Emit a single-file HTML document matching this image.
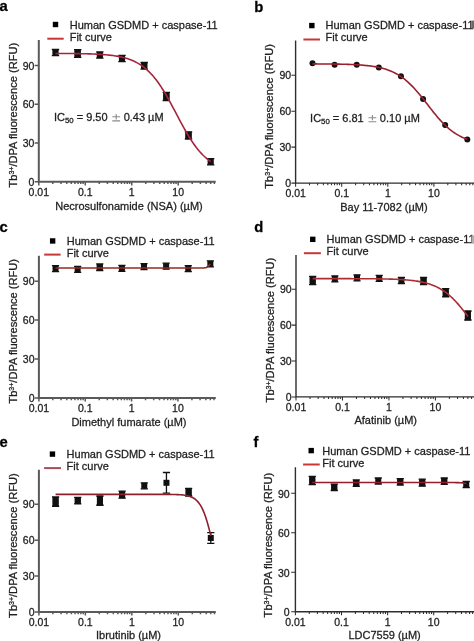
<!DOCTYPE html>
<html><head><meta charset="utf-8"><style>
html,body{margin:0;padding:0;background:#fff;width:474px;height:641px;overflow:hidden}
svg{display:block;font-family:"Liberation Sans",sans-serif;filter:blur(0.3px)}
text{stroke:#1e1e1e;stroke-width:0.28px;paint-order:stroke}
</style></head><body>
<svg width="474" height="641" viewBox="0 0 474 641">
<rect width="474" height="641" fill="#fff"/>
<text x="-0.6" y="11.2" font-size="14.8" font-weight="bold" fill="#000">a</text>
<path d="M38.8 40V181.8H215.7" fill="none" stroke="#5a5a5a" stroke-width="2.0"/>
<text x="34.4" y="185.8" font-size="10.5" text-anchor="end" fill="#1e1e1e">0</text>
<text x="34.4" y="147.04" font-size="10.5" text-anchor="end" fill="#1e1e1e">30</text>
<text x="34.4" y="108.28" font-size="10.5" text-anchor="end" fill="#1e1e1e">60</text>
<text x="34.4" y="69.52" font-size="10.5" text-anchor="end" fill="#1e1e1e">90</text>
<text x="38.8" y="195.9" font-size="10.5" text-anchor="middle" fill="#1e1e1e">0.01</text>
<text x="85.27" y="195.9" font-size="10.5" text-anchor="middle" fill="#1e1e1e">0.1</text>
<text x="131.74" y="195.9" font-size="10.5" text-anchor="middle" fill="#1e1e1e">1</text>
<text x="178.21" y="195.9" font-size="10.5" text-anchor="middle" fill="#1e1e1e">10</text>
<path d="M34.6 181.8H38.8M34.6 143.04H38.8M34.6 104.28H38.8M34.6 65.52H38.8M38.8 181.8V185.4M52.79 181.8V184M60.97 181.8V184M66.78 181.8V184M71.28 181.8V184M74.96 181.8V184M78.07 181.8V184M80.77 181.8V184M83.14 181.8V184M85.27 181.8V185.4M99.26 181.8V184M107.44 181.8V184M113.25 181.8V184M117.75 181.8V184M121.43 181.8V184M124.54 181.8V184M127.24 181.8V184M129.61 181.8V184M131.74 181.8V185.4M145.73 181.8V184M153.91 181.8V184M159.72 181.8V184M164.22 181.8V184M167.9 181.8V184M171.01 181.8V184M173.71 181.8V184M176.08 181.8V184M178.21 181.8V185.4M192.2 181.8V184M200.38 181.8V184M206.19 181.8V184M210.69 181.8V184M214.37 181.8V184" stroke="#5a5a5a" stroke-width="1.50"/>
<text x="55.2" y="209.8" font-size="11" fill="#1e1e1e">Necrosulfonamide (NSA) (µM)</text>
<text transform="translate(16.9 187.5) rotate(-90)" font-size="11.1" fill="#1e1e1e">Tb<tspan font-size="7.0" dy="-3.0">3+</tspan><tspan dy="3.0">/DPA fluorescence (RFU)</tspan></text>
<rect x="52.8" y="21.8" width="5.4" height="5.4" fill="#000"/>
<text x="69.7" y="28.6" font-size="11" fill="#1e1e1e">Human GSDMD + caspase-11</text>
<path d="M47.3 38.7H63.7" stroke="#c83636" stroke-width="2"/>
<text x="69.7" y="41" font-size="11" fill="#1e1e1e">Fit curve</text>
<text x="53.91" y="121.2" font-size="11" fill="#1e1e1e">IC<tspan font-size="7.8" dy="2">50</tspan><tspan dy="-2"> = 9.50</tspan></text>
<path d="M116.2 114V119.4M112.3 116.8H120.1M112.3 120.9H120.1" stroke="#8a8a8a" stroke-width="1.1"/>
<text x="123.66" y="121.2" font-size="11" fill="#1e1e1e">0.43 µM</text>
<rect x="52.39" y="49.5" width="6.2" height="6.2" fill="#111"/>
<rect x="74.56" y="50.4" width="6.2" height="6.2" fill="#111"/>
<path d="M73.96 49.7H81.36L80.76 50.4V56.6L81.36 57.3H73.96L74.56 56.6V50.4Z" fill="#111"/>
<rect x="96.73" y="51.9" width="6.2" height="6.2" fill="#111"/>
<rect x="118.9" y="55.4" width="6.2" height="6.2" fill="#111"/>
<rect x="141.08" y="62.7" width="6.2" height="6.2" fill="#111"/>
<path d="M140.48 62.5H147.88L147.28 62.7V68.9L147.88 69.1H140.48L141.08 68.9V62.7Z" fill="#111"/>
<rect x="163.25" y="93.3" width="6.2" height="6.2" fill="#111"/>
<path d="M162.65 92.3H170.05L169.45 93.3V99.5L170.05 100.5H162.65L163.25 99.5V93.3Z" fill="#111"/>
<rect x="185.42" y="132.3" width="6.2" height="6.2" fill="#111"/>
<path d="M184.82 131.8H192.22L191.62 132.3V138.5L192.22 139H184.82L185.42 138.5V132.3Z" fill="#111"/>
<rect x="207.59" y="158.7" width="6.2" height="6.2" fill="#111"/>
<path d="M55.49 49.5V55.7M51.79 49.5H59.19M51.79 55.7H59.19M77.66 49.7V57.3M73.96 49.7H81.36M73.96 57.3H81.36M99.83 51.9V58.1M96.13 51.9H103.53M96.13 58.1H103.53M122 55.4V61.6M118.3 55.4H125.7M118.3 61.6H125.7M144.18 62.5V69.1M140.48 62.5H147.88M140.48 69.1H147.88M166.35 92.3V100.5M162.65 92.3H170.05M162.65 100.5H170.05M188.52 131.8V139M184.82 131.8H192.22M184.82 139H192.22M210.69 158.7V164.9M206.99 158.7H214.39M206.99 164.9H214.39" stroke="#111" stroke-width="1.3" fill="none"/>
<path d="M55.49 53.44 L56.79 53.44 L58.10 53.45 L59.40 53.45 L60.71 53.46 L62.01 53.47 L63.31 53.47 L64.62 53.48 L65.92 53.49 L67.23 53.50 L68.53 53.51 L69.83 53.52 L71.14 53.54 L72.44 53.55 L73.75 53.56 L75.05 53.58 L76.36 53.60 L77.66 53.62 L78.96 53.64 L80.27 53.66 L81.57 53.68 L82.88 53.71 L84.18 53.74 L85.49 53.77 L86.79 53.80 L88.09 53.84 L89.40 53.88 L90.70 53.92 L92.01 53.97 L93.31 54.02 L94.62 54.07 L95.92 54.13 L97.22 54.19 L98.53 54.26 L99.83 54.34 L101.14 54.42 L102.44 54.51 L103.74 54.61 L105.05 54.71 L106.35 54.82 L107.66 54.95 L108.96 55.08 L110.27 55.22 L111.57 55.38 L112.87 55.55 L114.18 55.73 L115.48 55.93 L116.79 56.14 L118.09 56.37 L119.40 56.62 L120.70 56.89 L122.00 57.19 L123.31 57.50 L124.61 57.84 L125.92 58.21 L127.22 58.61 L128.52 59.04 L129.83 59.50 L131.13 59.99 L132.44 60.53 L133.74 61.10 L135.05 61.72 L136.35 62.38 L137.65 63.09 L138.96 63.85 L140.26 64.66 L141.57 65.53 L142.87 66.46 L144.18 67.46 L145.48 68.51 L146.78 69.64 L148.09 70.83 L149.39 72.09 L150.70 73.43 L152.00 74.84 L153.31 76.34 L154.61 77.90 L155.91 79.55 L157.22 81.28 L158.52 83.08 L159.83 84.96 L161.13 86.92 L162.43 88.95 L163.74 91.04 L165.04 93.21 L166.35 95.43 L167.65 97.71 L168.96 100.04 L170.26 102.42 L171.56 104.83 L172.87 107.27 L174.17 109.73 L175.48 112.21 L176.78 114.69 L178.09 117.16 L179.39 119.63 L180.69 122.07 L182.00 124.49 L183.30 126.87 L184.61 129.21 L185.91 131.50 L187.22 133.74 L188.52 135.91 L189.82 138.02 L191.13 140.06 L192.43 142.03 L193.74 143.92 L195.04 145.74 L196.34 147.48 L197.65 149.14 L198.95 150.72 L200.26 152.22 L201.56 153.65 L202.87 155.00 L204.17 156.28 L205.47 157.48 L206.78 158.61 L208.08 159.68 L209.39 160.68 L210.69 161.62" stroke="#a8243c" stroke-width="1.6" fill="none"/>
<text x="254.2" y="12.2" font-size="14.8" font-weight="bold" fill="#000">b</text>
<path d="M295.6 40.5V183.1H480" fill="none" stroke="#2e2e2e" stroke-width="1.4"/>
<text x="291.2" y="187.1" font-size="10.5" text-anchor="end" fill="#1e1e1e">0</text>
<text x="291.2" y="151.13" font-size="10.5" text-anchor="end" fill="#1e1e1e">30</text>
<text x="291.2" y="115.16" font-size="10.5" text-anchor="end" fill="#1e1e1e">60</text>
<text x="291.2" y="79.19" font-size="10.5" text-anchor="end" fill="#1e1e1e">90</text>
<text x="295.6" y="197.2" font-size="10.5" text-anchor="middle" fill="#1e1e1e">0.01</text>
<text x="341.7" y="197.2" font-size="10.5" text-anchor="middle" fill="#1e1e1e">0.1</text>
<text x="387.8" y="197.2" font-size="10.5" text-anchor="middle" fill="#1e1e1e">1</text>
<text x="433.9" y="197.2" font-size="10.5" text-anchor="middle" fill="#1e1e1e">10</text>
<path d="M291.4 183.1H295.6M291.4 147.13H295.6M291.4 111.16H295.6M291.4 75.19H295.6M295.6 183.1V186.7M309.48 183.1V185.3M317.6 183.1V185.3M323.35 183.1V185.3M327.82 183.1V185.3M331.47 183.1V185.3M334.56 183.1V185.3M337.23 183.1V185.3M339.59 183.1V185.3M341.7 183.1V186.7M355.58 183.1V185.3M363.7 183.1V185.3M369.45 183.1V185.3M373.92 183.1V185.3M377.57 183.1V185.3M380.66 183.1V185.3M383.33 183.1V185.3M385.69 183.1V185.3M387.8 183.1V186.7M401.68 183.1V185.3M409.8 183.1V185.3M415.55 183.1V185.3M420.02 183.1V185.3M423.67 183.1V185.3M426.76 183.1V185.3M429.43 183.1V185.3M431.79 183.1V185.3M433.9 183.1V186.7M447.78 183.1V185.3M455.9 183.1V185.3M461.65 183.1V185.3M466.12 183.1V185.3M469.77 183.1V185.3M472.86 183.1V185.3M475.53 183.1V185.3M477.89 183.1V185.3M480 183.1V186.7" stroke="#2e2e2e" stroke-width="1.05"/>
<text x="340.2" y="210.8" font-size="11" fill="#1e1e1e">Bay 11-7082 (µM)</text>
<text transform="translate(272.6 188.7) rotate(-90)" font-size="11.1" fill="#1e1e1e">Tb<tspan font-size="7.0" dy="-3.0">3+</tspan><tspan dy="3.0">/DPA fluorescence (RFU)</tspan></text>
<rect x="309.15" y="22.85" width="5.4" height="5.4" fill="#000"/>
<text x="325.5" y="28.8" font-size="11" fill="#1e1e1e">Human GSDMD + caspase-11</text>
<path d="M303.4 39.5H320" stroke="#c83636" stroke-width="2"/>
<text x="325.5" y="41" font-size="11" fill="#1e1e1e">Fit curve</text>
<text x="310.11" y="122.1" font-size="11" fill="#1e1e1e">IC<tspan font-size="7.8" dy="2">50</tspan><tspan dy="-2"> = 6.81</tspan></text>
<path d="M372.4 114.9V120.3M368.5 117.7H376.3M368.5 121.8H376.3" stroke="#8a8a8a" stroke-width="1.1"/>
<text x="379.86" y="122.1" font-size="11" fill="#1e1e1e">0.10 µM</text>
<circle cx="312.5" cy="63.2" r="3" fill="#111"/>
<circle cx="334.61" cy="64.8" r="3" fill="#111"/>
<circle cx="356.72" cy="64.8" r="3" fill="#111"/>
<circle cx="378.84" cy="67.5" r="3" fill="#111"/>
<circle cx="400.95" cy="76.3" r="3" fill="#111"/>
<circle cx="423.07" cy="99.1" r="3" fill="#111"/>
<circle cx="445.18" cy="125.1" r="3" fill="#111"/>
<circle cx="467.3" cy="139.4" r="3" fill="#111"/>
<path d="" stroke="#111" stroke-width="1.3" fill="none"/>
<path d="M312.50 63.91 L313.80 63.91 L315.10 63.92 L316.40 63.92 L317.70 63.93 L319.00 63.94 L320.30 63.94 L321.60 63.95 L322.90 63.96 L324.20 63.97 L325.50 63.98 L326.80 63.99 L328.11 64.00 L329.41 64.01 L330.71 64.03 L332.01 64.04 L333.31 64.06 L334.61 64.08 L335.91 64.10 L337.21 64.12 L338.51 64.14 L339.81 64.17 L341.11 64.19 L342.41 64.22 L343.72 64.25 L345.02 64.29 L346.32 64.32 L347.62 64.36 L348.92 64.41 L350.22 64.45 L351.52 64.51 L352.82 64.56 L354.12 64.62 L355.42 64.69 L356.72 64.76 L358.03 64.83 L359.33 64.92 L360.63 65.01 L361.93 65.11 L363.23 65.21 L364.53 65.33 L365.83 65.45 L367.13 65.59 L368.43 65.73 L369.73 65.89 L371.03 66.06 L372.33 66.24 L373.64 66.44 L374.94 66.66 L376.24 66.89 L377.54 67.14 L378.84 67.41 L380.14 67.70 L381.44 68.01 L382.74 68.35 L384.04 68.71 L385.34 69.10 L386.64 69.52 L387.94 69.98 L389.25 70.46 L390.55 70.98 L391.85 71.53 L393.15 72.12 L394.45 72.76 L395.75 73.43 L397.05 74.15 L398.35 74.92 L399.65 75.73 L400.95 76.59 L402.25 77.50 L403.56 78.46 L404.86 79.48 L406.16 80.55 L407.46 81.67 L408.76 82.84 L410.06 84.07 L411.36 85.35 L412.66 86.68 L413.96 88.06 L415.26 89.49 L416.56 90.96 L417.86 92.47 L419.17 94.02 L420.47 95.60 L421.77 97.21 L423.07 98.85 L424.37 100.50 L425.67 102.17 L426.97 103.85 L428.27 105.53 L429.57 107.21 L430.87 108.88 L432.17 110.53 L433.47 112.17 L434.78 113.78 L436.08 115.36 L437.38 116.91 L438.68 118.42 L439.98 119.88 L441.28 121.31 L442.58 122.68 L443.88 124.01 L445.18 125.28 L446.48 126.51 L447.78 127.68 L449.09 128.80 L450.39 129.86 L451.69 130.87 L452.99 131.83 L454.29 132.74 L455.59 133.60 L456.89 134.40 L458.19 135.17 L459.49 135.88 L460.79 136.55 L462.09 137.19 L463.39 137.78 L464.70 138.33 L466.00 138.84 L467.30 139.32" stroke="#9a1e2e" stroke-width="1.6" fill="none"/>
<text x="-0.6" y="231.9" font-size="14.8" font-weight="bold" fill="#000">c</text>
<path d="M38.9 255.7V398H215.8" fill="none" stroke="#5a5a5a" stroke-width="2.0"/>
<text x="34.5" y="402" font-size="10.5" text-anchor="end" fill="#1e1e1e">0</text>
<text x="34.5" y="363.06" font-size="10.5" text-anchor="end" fill="#1e1e1e">30</text>
<text x="34.5" y="324.12" font-size="10.5" text-anchor="end" fill="#1e1e1e">60</text>
<text x="34.5" y="285.18" font-size="10.5" text-anchor="end" fill="#1e1e1e">90</text>
<text x="38.9" y="412.1" font-size="10.5" text-anchor="middle" fill="#1e1e1e">0.01</text>
<text x="85.25" y="412.1" font-size="10.5" text-anchor="middle" fill="#1e1e1e">0.1</text>
<text x="131.6" y="412.1" font-size="10.5" text-anchor="middle" fill="#1e1e1e">1</text>
<text x="177.95" y="412.1" font-size="10.5" text-anchor="middle" fill="#1e1e1e">10</text>
<path d="M34.7 398H38.9M34.7 359.06H38.9M34.7 320.12H38.9M34.7 281.18H38.9M38.9 398V401.6M52.85 398V400.2M61.01 398V400.2M66.81 398V400.2M71.3 398V400.2M74.97 398V400.2M78.07 398V400.2M80.76 398V400.2M83.13 398V400.2M85.25 398V401.6M99.2 398V400.2M107.36 398V400.2M113.16 398V400.2M117.65 398V400.2M121.32 398V400.2M124.42 398V400.2M127.11 398V400.2M129.48 398V400.2M131.6 398V401.6M145.55 398V400.2M153.71 398V400.2M159.51 398V400.2M164 398V400.2M167.67 398V400.2M170.77 398V400.2M173.46 398V400.2M175.83 398V400.2M177.95 398V401.6M191.9 398V400.2M200.06 398V400.2M205.86 398V400.2M210.35 398V400.2M214.02 398V400.2" stroke="#5a5a5a" stroke-width="1.50"/>
<text x="71.4" y="425.8" font-size="11" fill="#1e1e1e">Dimethyl fumarate (µM)</text>
<text transform="translate(17 403.6) rotate(-90)" font-size="11.1" fill="#1e1e1e">Tb<tspan font-size="7.0" dy="-3.0">3+</tspan><tspan dy="3.0">/DPA fluorescence (RFU)</tspan></text>
<rect x="49.95" y="238.25" width="5.4" height="5.4" fill="#000"/>
<text x="66.7" y="245" font-size="11" fill="#1e1e1e">Human GSDMD + caspase-11</text>
<path d="M44.2 254.6H60.6" stroke="#c83636" stroke-width="2"/>
<text x="66.7" y="257" font-size="11" fill="#1e1e1e">Fit curve</text>
<rect x="52.55" y="265.7" width="6" height="6" fill="#111"/>
<rect x="74.66" y="266.3" width="6" height="6" fill="#111"/>
<rect x="96.77" y="264.2" width="6" height="6" fill="#111"/>
<path d="M96.17 263.9H103.37L102.77 264.2V270.2L103.37 270.5H96.17L96.77 270.2V264.2Z" fill="#111"/>
<rect x="118.89" y="265.3" width="6" height="6" fill="#111"/>
<rect x="141" y="263.6" width="6" height="6" fill="#111"/>
<rect x="163.12" y="263.2" width="6" height="6" fill="#111"/>
<rect x="185.23" y="265.6" width="6" height="6" fill="#111"/>
<rect x="207.35" y="260.9" width="6" height="6" fill="#111"/>
<path d="M55.55 265.7V271.7M51.95 265.7H59.15M51.95 271.7H59.15M77.66 266.3V272.3M74.06 266.3H81.26M74.06 272.3H81.26M99.77 263.9V270.5M96.17 263.9H103.37M96.17 270.5H103.37M121.89 265.3V271.3M118.29 265.3H125.49M118.29 271.3H125.49M144 263.6V269.6M140.4 263.6H147.6M140.4 269.6H147.6M166.12 263.2V269.2M162.52 263.2H169.72M162.52 269.2H169.72M188.23 265.6V271.6M184.63 265.6H191.83M184.63 271.6H191.83M210.35 260.9V266.9M206.75 260.9H213.95M206.75 266.9H213.95" stroke="#111" stroke-width="1.3" fill="none"/>
<path d="M55.55 267.94 L56.85 267.94 L58.15 267.94 L59.45 267.94 L60.75 267.94 L62.05 267.94 L63.35 267.94 L64.65 267.94 L65.95 267.94 L67.25 267.94 L68.55 267.94 L69.85 267.94 L71.16 267.94 L72.46 267.94 L73.76 267.94 L75.06 267.94 L76.36 267.94 L77.66 267.94 L78.96 267.94 L80.26 267.94 L81.56 267.94 L82.86 267.94 L84.16 267.94 L85.46 267.94 L86.77 267.94 L88.07 267.94 L89.37 267.94 L90.67 267.94 L91.97 267.94 L93.27 267.94 L94.57 267.94 L95.87 267.94 L97.17 267.94 L98.47 267.94 L99.77 267.94 L101.08 267.94 L102.38 267.94 L103.68 267.94 L104.98 267.94 L106.28 267.94 L107.58 267.94 L108.88 267.94 L110.18 267.94 L111.48 267.94 L112.78 267.94 L114.08 267.94 L115.38 267.94 L116.69 267.94 L117.99 267.94 L119.29 267.94 L120.59 267.94 L121.89 267.94 L123.19 267.94 L124.49 267.94 L125.79 267.94 L127.09 267.94 L128.39 267.94 L129.69 267.94 L130.99 267.94 L132.30 267.94 L133.60 267.94 L134.90 267.94 L136.20 267.94 L137.50 267.94 L138.80 267.94 L140.10 267.94 L141.40 267.94 L142.70 267.94 L144.00 267.94 L145.30 267.94 L146.61 267.94 L147.91 267.94 L149.21 267.94 L150.51 267.94 L151.81 267.94 L153.11 267.94 L154.41 267.94 L155.71 267.94 L157.01 267.94 L158.31 267.94 L159.61 267.94 L160.91 267.94 L162.22 267.94 L163.52 267.94 L164.82 267.94 L166.12 267.94 L167.42 267.94 L168.72 267.94 L170.02 267.94 L171.32 267.94 L172.62 267.94 L173.92 267.94 L175.22 267.94 L176.52 267.94 L177.83 267.94 L179.13 267.94 L180.43 267.94 L181.73 267.94 L183.03 267.94 L184.33 267.94 L185.63 267.94 L186.93 267.94 L188.23 267.94 L189.53 267.94 L190.83 267.94 L192.14 267.94 L193.44 267.94 L194.74 267.94 L196.04 267.94 L197.34 267.94 L198.64 267.94 L199.94 267.94 L201.24 267.94 L202.54 267.93 L203.84 267.90 L205.14 267.81 L206.44 267.49 L207.75 266.64 L209.05 265.25 L210.35 264.12" stroke="#922c24" stroke-width="1.6" fill="none"/>
<text x="254.2" y="231.5" font-size="14.8" font-weight="bold" fill="#000">d</text>
<path d="M296 255V396.9H480" fill="none" stroke="#2e2e2e" stroke-width="1.4"/>
<text x="291.6" y="400.9" font-size="10.5" text-anchor="end" fill="#1e1e1e">0</text>
<text x="291.6" y="365.02" font-size="10.5" text-anchor="end" fill="#1e1e1e">30</text>
<text x="291.6" y="329.14" font-size="10.5" text-anchor="end" fill="#1e1e1e">60</text>
<text x="291.6" y="293.26" font-size="10.5" text-anchor="end" fill="#1e1e1e">90</text>
<text x="296" y="411" font-size="10.5" text-anchor="middle" fill="#1e1e1e">0.01</text>
<text x="342.47" y="411" font-size="10.5" text-anchor="middle" fill="#1e1e1e">0.1</text>
<text x="388.94" y="411" font-size="10.5" text-anchor="middle" fill="#1e1e1e">1</text>
<text x="435.41" y="411" font-size="10.5" text-anchor="middle" fill="#1e1e1e">10</text>
<path d="M291.8 396.9H296M291.8 361.02H296M291.8 325.14H296M291.8 289.26H296M296 396.9V400.5M309.99 396.9V399.1M318.17 396.9V399.1M323.98 396.9V399.1M328.48 396.9V399.1M332.16 396.9V399.1M335.27 396.9V399.1M337.97 396.9V399.1M340.34 396.9V399.1M342.47 396.9V400.5M356.46 396.9V399.1M364.64 396.9V399.1M370.45 396.9V399.1M374.95 396.9V399.1M378.63 396.9V399.1M381.74 396.9V399.1M384.44 396.9V399.1M386.81 396.9V399.1M388.94 396.9V400.5M402.93 396.9V399.1M411.11 396.9V399.1M416.92 396.9V399.1M421.42 396.9V399.1M425.1 396.9V399.1M428.21 396.9V399.1M430.91 396.9V399.1M433.28 396.9V399.1M435.41 396.9V400.5M449.4 396.9V399.1M457.58 396.9V399.1M463.39 396.9V399.1M467.89 396.9V399.1M471.57 396.9V399.1M474.68 396.9V399.1M477.38 396.9V399.1M479.75 396.9V399.1" stroke="#2e2e2e" stroke-width="1.05"/>
<text x="354.4" y="424.1" font-size="11" fill="#1e1e1e">Afatinib (µM)</text>
<text transform="translate(273.8 402.4) rotate(-90)" font-size="11.1" fill="#1e1e1e">Tb<tspan font-size="7.0" dy="-3.0">3+</tspan><tspan dy="3.0">/DPA fluorescence (RFU)</tspan></text>
<rect x="310.05" y="236.65" width="5.4" height="5.4" fill="#000"/>
<text x="326.5" y="243.2" font-size="11" fill="#1e1e1e">Human GSDMD + caspase-11</text>
<path d="M303.9 253.2H320.9" stroke="#c83636" stroke-width="2"/>
<text x="326.5" y="255" font-size="11" fill="#1e1e1e">Fit curve</text>
<rect x="309.69" y="277.5" width="6" height="6" fill="#111"/>
<path d="M309.09 276.4H316.29L315.69 277.5V283.5L316.29 284.6H309.09L309.69 283.5V277.5Z" fill="#111"/>
<rect x="331.86" y="275.9" width="6" height="6" fill="#111"/>
<rect x="354.03" y="274.8" width="6" height="6" fill="#111"/>
<rect x="376.2" y="275.4" width="6" height="6" fill="#111"/>
<rect x="398.38" y="277.5" width="6" height="6" fill="#111"/>
<rect x="420.55" y="277.9" width="6" height="6" fill="#111"/>
<path d="M419.95 277.3H427.15L426.55 277.9V283.9L427.15 284.5H419.95L420.55 283.9V277.9Z" fill="#111"/>
<rect x="442.72" y="289.8" width="6" height="6" fill="#111"/>
<path d="M442.12 288.65H449.32L448.72 289.8V295.8L449.32 296.95H442.12L442.72 295.8V289.8Z" fill="#111"/>
<rect x="464.89" y="312.6" width="6" height="6" fill="#111"/>
<path d="M464.29 311H471.49L470.89 312.6V318.6L471.49 320.2H464.29L464.89 318.6V312.6Z" fill="#111"/>
<path d="M312.69 276.4V284.6M309.09 276.4H316.29M309.09 284.6H316.29M334.86 275.9V281.9M331.26 275.9H338.46M331.26 281.9H338.46M357.03 274.8V280.8M353.43 274.8H360.63M353.43 280.8H360.63M379.2 275.4V281.4M375.6 275.4H382.8M375.6 281.4H382.8M401.38 277.5V283.5M397.78 277.5H404.98M397.78 283.5H404.98M423.55 277.3V284.5M419.95 277.3H427.15M419.95 284.5H427.15M445.72 288.65V296.95M442.12 288.65H449.32M442.12 296.95H449.32M467.89 311V320.2M464.29 311H471.49M464.29 320.2H471.49" stroke="#111" stroke-width="1.3" fill="none"/>
<path d="M312.69 278.64 L313.99 278.64 L315.30 278.64 L316.60 278.64 L317.91 278.64 L319.21 278.64 L320.51 278.64 L321.82 278.64 L323.12 278.64 L324.43 278.64 L325.73 278.64 L327.03 278.65 L328.34 278.65 L329.64 278.65 L330.95 278.65 L332.25 278.65 L333.56 278.65 L334.86 278.65 L336.16 278.65 L337.47 278.65 L338.77 278.65 L340.08 278.66 L341.38 278.66 L342.69 278.66 L343.99 278.66 L345.29 278.66 L346.60 278.67 L347.90 278.67 L349.21 278.67 L350.51 278.67 L351.82 278.68 L353.12 278.68 L354.42 278.68 L355.73 278.69 L357.03 278.69 L358.34 278.70 L359.64 278.70 L360.94 278.71 L362.25 278.71 L363.55 278.72 L364.86 278.73 L366.16 278.74 L367.47 278.74 L368.77 278.75 L370.07 278.76 L371.38 278.77 L372.68 278.79 L373.99 278.80 L375.29 278.81 L376.60 278.83 L377.90 278.85 L379.20 278.86 L380.51 278.88 L381.81 278.91 L383.12 278.93 L384.42 278.95 L385.72 278.98 L387.03 279.01 L388.33 279.04 L389.64 279.08 L390.94 279.12 L392.25 279.16 L393.55 279.21 L394.85 279.26 L396.16 279.31 L397.46 279.37 L398.77 279.43 L400.07 279.50 L401.38 279.57 L402.68 279.66 L403.98 279.74 L405.29 279.84 L406.59 279.94 L407.90 280.05 L409.20 280.18 L410.51 280.31 L411.81 280.45 L413.11 280.61 L414.42 280.78 L415.72 280.96 L417.03 281.15 L418.33 281.37 L419.63 281.60 L420.94 281.85 L422.24 282.12 L423.55 282.41 L424.85 282.72 L426.16 283.06 L427.46 283.43 L428.76 283.82 L430.07 284.25 L431.37 284.70 L432.68 285.19 L433.98 285.72 L435.29 286.28 L436.59 286.89 L437.89 287.53 L439.20 288.23 L440.50 288.96 L441.81 289.75 L443.11 290.58 L444.42 291.47 L445.72 292.41 L447.02 293.41 L448.33 294.46 L449.63 295.57 L450.94 296.73 L452.24 297.95 L453.54 299.23 L454.85 300.57 L456.15 301.96 L457.46 303.40 L458.76 304.89 L460.07 306.43 L461.37 308.02 L462.67 309.65 L463.98 311.31 L465.28 313.01 L466.59 314.73 L467.89 316.47" stroke="#ac2e34" stroke-width="1.6" fill="none"/>
<text x="-0.6" y="446.6" font-size="14.8" font-weight="bold" fill="#000">e</text>
<path d="M38.9 469.7V612H215.8" fill="none" stroke="#5a5a5a" stroke-width="2.0"/>
<text x="34.5" y="616" font-size="10.5" text-anchor="end" fill="#1e1e1e">0</text>
<text x="34.5" y="580.12" font-size="10.5" text-anchor="end" fill="#1e1e1e">30</text>
<text x="34.5" y="544.24" font-size="10.5" text-anchor="end" fill="#1e1e1e">60</text>
<text x="34.5" y="508.36" font-size="10.5" text-anchor="end" fill="#1e1e1e">90</text>
<text x="38.9" y="626.1" font-size="10.5" text-anchor="middle" fill="#1e1e1e">0.01</text>
<text x="85.37" y="626.1" font-size="10.5" text-anchor="middle" fill="#1e1e1e">0.1</text>
<text x="131.84" y="626.1" font-size="10.5" text-anchor="middle" fill="#1e1e1e">1</text>
<text x="178.31" y="626.1" font-size="10.5" text-anchor="middle" fill="#1e1e1e">10</text>
<path d="M34.7 612H38.9M34.7 576.12H38.9M34.7 540.24H38.9M34.7 504.36H38.9M38.9 612V615.6M52.89 612V614.2M61.07 612V614.2M66.88 612V614.2M71.38 612V614.2M75.06 612V614.2M78.17 612V614.2M80.87 612V614.2M83.24 612V614.2M85.37 612V615.6M99.36 612V614.2M107.54 612V614.2M113.35 612V614.2M117.85 612V614.2M121.53 612V614.2M124.64 612V614.2M127.34 612V614.2M129.71 612V614.2M131.84 612V615.6M145.83 612V614.2M154.01 612V614.2M159.82 612V614.2M164.32 612V614.2M168 612V614.2M171.11 612V614.2M173.81 612V614.2M176.18 612V614.2M178.31 612V615.6M192.3 612V614.2M200.48 612V614.2M206.29 612V614.2M210.79 612V614.2M214.47 612V614.2" stroke="#5a5a5a" stroke-width="1.50"/>
<text x="96" y="639.3" font-size="11" fill="#1e1e1e">Ibrutinib (µM)</text>
<text transform="translate(16.8 617.9) rotate(-90)" font-size="11.1" fill="#1e1e1e">Tb<tspan font-size="7.0" dy="-3.0">3+</tspan><tspan dy="3.0">/DPA fluorescence (RFU)</tspan></text>
<rect x="49.75" y="451.4" width="5.4" height="5.4" fill="#000"/>
<text x="66.6" y="457.7" font-size="11" fill="#1e1e1e">Human GSDMD + caspase-11</text>
<path d="M44.1 468.1H61" stroke="#a84c5a" stroke-width="2"/>
<text x="66.6" y="469.6" font-size="11" fill="#1e1e1e">Fit curve</text>
<rect x="52.59" y="498.6" width="6" height="6" fill="#111"/>
<path d="M51.99 496.9H59.19L58.59 498.6V504.6L59.19 506.3H51.99L52.59 504.6V498.6Z" fill="#111"/>
<rect x="74.76" y="497.6" width="6" height="6" fill="#111"/>
<path d="M74.16 497.3H81.36L80.76 497.6V503.6L81.36 503.9H74.16L74.76 503.6V497.6Z" fill="#111"/>
<rect x="96.93" y="497.6" width="6" height="6" fill="#111"/>
<path d="M96.33 495.9H103.53L102.93 497.6V503.6L103.53 505.3H96.33L96.93 503.6V497.6Z" fill="#111"/>
<rect x="119.1" y="491.7" width="6" height="6" fill="#111"/>
<path d="M118.5 491.2H125.7L125.1 491.7V497.7L125.7 498.2H118.5L119.1 497.7V491.7Z" fill="#111"/>
<rect x="141.28" y="482.8" width="6" height="6" fill="#111"/>
<rect x="163.45" y="479.8" width="6" height="6" fill="#111"/>
<rect x="185.62" y="489.2" width="6" height="6" fill="#111"/>
<path d="M185.02 488.4H192.22L191.62 489.2V495.2L192.22 496H185.02L185.62 495.2V489.2Z" fill="#111"/>
<rect x="207.79" y="535" width="6" height="6" fill="#111"/>
<path d="M55.59 496.9V506.3M51.99 496.9H59.19M51.99 506.3H59.19M77.76 497.3V503.9M74.16 497.3H81.36M74.16 503.9H81.36M99.93 495.9V505.3M96.33 495.9H103.53M96.33 505.3H103.53M122.1 491.2V498.2M118.5 491.2H125.7M118.5 498.2H125.7M144.28 482.8V488.8M140.68 482.8H147.88M140.68 488.8H147.88M166.45 472.5V493.1M162.85 472.5H170.05M162.85 493.1H170.05M188.62 488.4V496M185.02 488.4H192.22M185.02 496H192.22M210.79 532.6V543.4M207.19 532.6H214.39M207.19 543.4H214.39" stroke="#111" stroke-width="1.3" fill="none"/>
<path d="M55.59 494.33 L56.89 494.33 L58.20 494.33 L59.50 494.33 L60.81 494.33 L62.11 494.33 L63.41 494.33 L64.72 494.33 L66.02 494.33 L67.33 494.33 L68.63 494.33 L69.93 494.33 L71.24 494.33 L72.54 494.33 L73.85 494.33 L75.15 494.33 L76.46 494.33 L77.76 494.33 L79.06 494.33 L80.37 494.33 L81.67 494.33 L82.98 494.33 L84.28 494.33 L85.59 494.33 L86.89 494.33 L88.19 494.33 L89.50 494.33 L90.80 494.33 L92.11 494.33 L93.41 494.33 L94.72 494.33 L96.02 494.33 L97.32 494.33 L98.63 494.33 L99.93 494.33 L101.24 494.33 L102.54 494.33 L103.84 494.33 L105.15 494.33 L106.45 494.33 L107.76 494.33 L109.06 494.33 L110.37 494.33 L111.67 494.33 L112.97 494.33 L114.28 494.33 L115.58 494.33 L116.89 494.33 L118.19 494.33 L119.50 494.33 L120.80 494.33 L122.10 494.33 L123.41 494.33 L124.71 494.33 L126.02 494.33 L127.32 494.33 L128.62 494.33 L129.93 494.33 L131.23 494.33 L132.54 494.33 L133.84 494.33 L135.15 494.33 L136.45 494.33 L137.75 494.33 L139.06 494.33 L140.36 494.33 L141.67 494.33 L142.97 494.33 L144.28 494.33 L145.58 494.33 L146.88 494.33 L148.19 494.33 L149.49 494.33 L150.80 494.33 L152.10 494.33 L153.41 494.33 L154.71 494.33 L156.01 494.33 L157.32 494.34 L158.62 494.34 L159.93 494.34 L161.23 494.35 L162.53 494.35 L163.84 494.36 L165.14 494.36 L166.45 494.37 L167.75 494.38 L169.06 494.40 L170.36 494.41 L171.66 494.43 L172.97 494.46 L174.27 494.49 L175.58 494.53 L176.88 494.58 L178.19 494.64 L179.49 494.71 L180.79 494.81 L182.10 494.92 L183.40 495.06 L184.71 495.24 L186.01 495.45 L187.32 495.72 L188.62 496.05 L189.92 496.45 L191.23 496.94 L192.53 497.55 L193.84 498.30 L195.14 499.20 L196.44 500.30 L197.75 501.64 L199.05 503.24 L200.36 505.16 L201.66 507.43 L202.97 510.11 L204.27 513.23 L205.57 516.82 L206.88 520.88 L208.18 525.41 L209.49 530.38 L210.79 535.72" stroke="#8e1f2e" stroke-width="1.6" fill="none"/>
<text x="253.4" y="447" font-size="14.8" font-weight="bold" fill="#000">f</text>
<path d="M295.4 467.2V611.75H480" fill="none" stroke="#2e2e2e" stroke-width="1.4"/>
<text x="289.7" y="616.35" font-size="10.5" text-anchor="end" fill="#1e1e1e">0</text>
<text x="289.7" y="576.87" font-size="10.5" text-anchor="end" fill="#1e1e1e">30</text>
<text x="289.7" y="537.39" font-size="10.5" text-anchor="end" fill="#1e1e1e">60</text>
<text x="289.7" y="497.91" font-size="10.5" text-anchor="end" fill="#1e1e1e">90</text>
<text x="295.4" y="625.85" font-size="10.5" text-anchor="middle" fill="#1e1e1e">0.01</text>
<text x="341.5" y="625.85" font-size="10.5" text-anchor="middle" fill="#1e1e1e">0.1</text>
<text x="387.6" y="625.85" font-size="10.5" text-anchor="middle" fill="#1e1e1e">1</text>
<text x="433.7" y="625.85" font-size="10.5" text-anchor="middle" fill="#1e1e1e">10</text>
<path d="M291.2 611.75H295.4M291.2 572.27H295.4M291.2 532.79H295.4M291.2 493.31H295.4M295.4 611.75V615.35M309.28 611.75V613.95M317.4 611.75V613.95M323.15 611.75V613.95M327.62 611.75V613.95M331.27 611.75V613.95M334.36 611.75V613.95M337.03 611.75V613.95M339.39 611.75V613.95M341.5 611.75V615.35M355.38 611.75V613.95M363.5 611.75V613.95M369.25 611.75V613.95M373.72 611.75V613.95M377.37 611.75V613.95M380.46 611.75V613.95M383.13 611.75V613.95M385.49 611.75V613.95M387.6 611.75V615.35M401.48 611.75V613.95M409.6 611.75V613.95M415.35 611.75V613.95M419.82 611.75V613.95M423.47 611.75V613.95M426.56 611.75V613.95M429.23 611.75V613.95M431.59 611.75V613.95M433.7 611.75V615.35M447.58 611.75V613.95M455.7 611.75V613.95M461.45 611.75V613.95M465.92 611.75V613.95M469.57 611.75V613.95M472.66 611.75V613.95M475.33 611.75V613.95M477.69 611.75V613.95M479.8 611.75V615.35" stroke="#2e2e2e" stroke-width="1.05"/>
<text x="348.4" y="638.6" font-size="11" fill="#1e1e1e">LDC7559 (µM)</text>
<text transform="translate(271.8 617.4) rotate(-90)" font-size="11.1" fill="#1e1e1e">Tb<tspan font-size="7.0" dy="-3.0">3+</tspan><tspan dy="3.0">/DPA fluorescence (RFU)</tspan></text>
<rect x="308.5" y="447.9" width="5.4" height="5.4" fill="#000"/>
<text x="322.3" y="454.9" font-size="11" fill="#1e1e1e">Human GSDMD + caspase-11</text>
<path d="M303.1 464.5H319.7" stroke="#c83636" stroke-width="2"/>
<text x="322.3" y="467.1" font-size="11" fill="#1e1e1e">Fit curve</text>
<rect x="309.26" y="477.5" width="6" height="6" fill="#111"/>
<path d="M308.66 476.4H315.86L315.26 477.5V483.5L315.86 484.6H308.66L309.26 483.5V477.5Z" fill="#111"/>
<rect x="331.25" y="484.3" width="6" height="6" fill="#111"/>
<path d="M330.65 484.1H337.85L337.25 484.3V490.3L337.85 490.5H330.65L331.25 490.3V484.3Z" fill="#111"/>
<rect x="353.25" y="480.1" width="6" height="6" fill="#111"/>
<path d="M352.65 479.9H359.85L359.25 480.1V486.1L359.85 486.3H352.65L353.25 486.1V480.1Z" fill="#111"/>
<rect x="375.24" y="478" width="6" height="6" fill="#111"/>
<rect x="397.24" y="478.9" width="6" height="6" fill="#111"/>
<path d="M396.64 478.7H403.84L403.24 478.9V484.9L403.84 485.1H396.64L397.24 484.9V478.9Z" fill="#111"/>
<rect x="419.23" y="479.7" width="6" height="6" fill="#111"/>
<path d="M418.63 479.2H425.83L425.23 479.7V485.7L425.83 486.2H418.63L419.23 485.7V479.7Z" fill="#111"/>
<rect x="441.23" y="478.2" width="6" height="6" fill="#111"/>
<path d="M440.63 478H447.83L447.23 478.2V484.2L447.83 484.4H440.63L441.23 484.2V478.2Z" fill="#111"/>
<rect x="463.22" y="481.5" width="6" height="6" fill="#111"/>
<path d="M312.26 476.4V484.6M308.66 476.4H315.86M308.66 484.6H315.86M334.25 484.1V490.5M330.65 484.1H337.85M330.65 490.5H337.85M356.25 479.9V486.3M352.65 479.9H359.85M352.65 486.3H359.85M378.24 478V484M374.64 478H381.84M374.64 484H381.84M400.24 478.7V485.1M396.64 478.7H403.84M396.64 485.1H403.84M422.23 479.2V486.2M418.63 479.2H425.83M418.63 486.2H425.83M444.23 478V484.4M440.63 478H447.83M440.63 484.4H447.83M466.22 481.5V487.5M462.62 481.5H469.82M462.62 487.5H469.82" stroke="#111" stroke-width="1.3" fill="none"/>
<path d="M312.26 482.52 L313.55 482.52 L314.84 482.52 L316.14 482.52 L317.43 482.52 L318.72 482.52 L320.02 482.52 L321.31 482.52 L322.61 482.52 L323.90 482.52 L325.19 482.52 L326.49 482.52 L327.78 482.52 L329.08 482.52 L330.37 482.52 L331.66 482.52 L332.96 482.52 L334.25 482.52 L335.54 482.52 L336.84 482.52 L338.13 482.52 L339.43 482.52 L340.72 482.52 L342.01 482.52 L343.31 482.52 L344.60 482.52 L345.90 482.52 L347.19 482.52 L348.48 482.52 L349.78 482.52 L351.07 482.52 L352.36 482.52 L353.66 482.52 L354.95 482.52 L356.25 482.52 L357.54 482.52 L358.83 482.52 L360.13 482.52 L361.42 482.52 L362.72 482.52 L364.01 482.52 L365.30 482.52 L366.60 482.52 L367.89 482.52 L369.18 482.52 L370.48 482.52 L371.77 482.52 L373.07 482.52 L374.36 482.52 L375.65 482.52 L376.95 482.52 L378.24 482.52 L379.54 482.52 L380.83 482.52 L382.12 482.52 L383.42 482.52 L384.71 482.52 L386.00 482.52 L387.30 482.52 L388.59 482.52 L389.89 482.52 L391.18 482.52 L392.47 482.52 L393.77 482.52 L395.06 482.52 L396.36 482.52 L397.65 482.52 L398.94 482.52 L400.24 482.52 L401.53 482.52 L402.82 482.52 L404.12 482.52 L405.41 482.52 L406.71 482.52 L408.00 482.52 L409.29 482.52 L410.59 482.52 L411.88 482.52 L413.18 482.52 L414.47 482.52 L415.76 482.52 L417.06 482.52 L418.35 482.52 L419.64 482.52 L420.94 482.52 L422.23 482.52 L423.53 482.52 L424.82 482.52 L426.11 482.52 L427.41 482.52 L428.70 482.52 L429.99 482.52 L431.29 482.52 L432.58 482.52 L433.88 482.52 L435.17 482.52 L436.46 482.52 L437.76 482.52 L439.05 482.52 L440.35 482.52 L441.64 482.52 L442.93 482.52 L444.23 482.52 L445.52 482.52 L446.81 482.53 L448.11 482.53 L449.40 482.53 L450.70 482.54 L451.99 482.55 L453.28 482.56 L454.58 482.57 L455.87 482.60 L457.17 482.62 L458.46 482.66 L459.75 482.72 L461.05 482.79 L462.34 482.90 L463.63 483.03 L464.93 483.22 L466.22 483.46" stroke="#961d2c" stroke-width="1.6" fill="none"/>
<rect x="471.5" y="20.6" width="2.5" height="8" fill="#6a6a6a"/>
<rect x="471.5" y="235.5" width="2.5" height="7.5" fill="#b0b0b0"/>
</svg>
</body></html>
